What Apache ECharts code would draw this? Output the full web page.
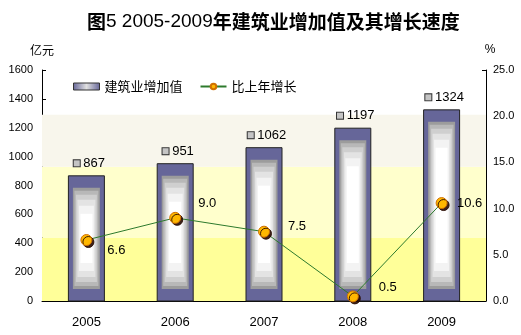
<!DOCTYPE html>
<html>
<head>
<meta charset="utf-8">
<script src="https://cdn.jsdelivr.net/npm/echarts@6/dist/echarts.min.js"></script>
<style>
html,body{margin:0;padding:0;background:#fff;}
#chart{width:521px;height:335px;}
</style>
</head>
<body>
<div id="chart"></div>
<script>
// Categories and values
const years = ['2005', '2006', '2007', '2008', '2009'];
const addedValue = [867, 951, 1062, 1197, 1324];      // 亿元
const growthRate = [6.6, 9.0, 7.5, 0.5, 10.6];        // %
// Shaded background bands (in 亿元 on the left axis)
const bandEdges = [0, 440, 930, 1290];
const bandColors = ['#FFFF99', '#FFFFCC', '#F8F6EC'];

// Label placement for the growth-rate values
const growthLabelOffsets = [[30, 10], [32, -14], [33, -5], [35, -9], [28, 0]];

const chart = echarts.init(document.getElementById('chart'), null, {renderer: 'canvas'});

const FONT = 'Arial, "Liberation Sans", sans-serif';
const CJK = '"Noto Sans CJK SC", sans-serif';

function renderBar(params, api) {
  const v = api.value(1);
  const top = api.coord([api.value(0), v]);
  const base = api.coord([api.value(0), 0]);
  const w = 36;
  const x0 = top[0] - w / 2;
  const y0 = top[1];
  const h = base[1] - top[1];
  const children = [{
    type: 'rect',
    shape: {x: x0, y: y0, width: w, height: h},
    style: {fill: '#666699', stroke: '#222', lineWidth: 1}
  }];
  // nested glow from grey edge to white core
  const layers = [
    [4.5, 12, '#9c9c9c'],
    [6, 15, '#b8b8b8'],
    [7.5, 19, '#cfcfcf'],
    [9, 24, '#e3e3e3'],
    [10.5, 30, '#f3f3f3'],
    [12, 38, '#ffffff']
  ];
  layers.forEach(function (l) {
    const ix = l[0], iy = l[1];
    if (h > 2 * iy + 4) {
      children.push({
        type: 'rect',
        shape: {x: x0 + ix, y: y0 + iy, width: w - 2 * ix, height: h - 2 * iy},
        style: {fill: l[2]}
      });
    }
  });
  children.push({
    type: 'text',
    x: top[0] + 3,
    y: y0 - 6,
    style: {
      text: '{sq|}' + ' ' + v,
      rich: {
        sq: {width: 6, height: 6, backgroundColor: '#c4c4c4', borderColor: '#333', borderWidth: 1}
      },
      font: '13px ' + FONT,
      fill: '#000',
      align: 'center',
      verticalAlign: 'bottom'
    }
  });
  return {type: 'group', children: children};
}

const areas = [];
for (let i = 0; i < bandColors.length; i++) {
  areas.push([
    {yAxis: bandEdges[i], itemStyle: {color: bandColors[i]}},
    {yAxis: bandEdges[i + 1]}
  ]);
}

chart.setOption({
  animation: false,
  backgroundColor: '#fff',
  title: {
    text: '{h|图}{n|5 2005-2009}{h|年建筑业增加值及其增长速度}',
    left: 82,
    top: 7,
    textStyle: {
      rich: {
        h: {fontFamily: CJK, fontSize: 19, fontWeight: 'bold', color: '#000'},
        n: {fontFamily: FONT, fontSize: 19, fontWeight: 'normal', color: '#000'}
      }
    }
  },
  legend: {
    left: 68,
    top: 75,
    itemGap: 17,
    itemWidth: 26,
    itemHeight: 7,
    textStyle: {fontFamily: CJK, fontSize: 13, color: '#000'},
    data: [
      {name: '建筑业增加值', icon: 'rect',
       itemStyle: {color: {type: 'linear', x: 0, y: 0, x2: 1, y2: 0,
         colorStops: [{offset: 0, color: '#666699'}, {offset: 0.5, color: '#e0e0e0'}, {offset: 1, color: '#666699'}]},
         borderColor: '#333', borderWidth: 1}},
      {name: '比上年增长'}
    ]
  },
  grid: {left: 42, right: 35, top: 70, bottom: 34},
  xAxis: {
    type: 'category',
    data: years,
    axisLine: {lineStyle: {color: '#000', width: 1}},
    axisTick: {inside: true, length: 4, lineStyle: {color: '#000'}},
    axisLabel: {fontFamily: FONT, fontSize: 13, color: '#000', margin: 15}
  },
  yAxis: [{
    type: 'value',
    min: 0, max: 1600, interval: 200,
    name: '亿元',
    nameGap: 14,
    nameTextStyle: {fontFamily: CJK, fontSize: 12, color: '#000'},
    splitLine: {show: false},
    axisLine: {show: true, lineStyle: {color: '#000'}},
    axisTick: {show: true, inside: true, length: 4, lineStyle: {color: '#000'}},
    axisLabel: {fontFamily: FONT, fontSize: 11, color: '#000', margin: 9,
      formatter: function (v) { return String(v); }}
  }, {
    type: 'value',
    min: 0, max: 25, interval: 5,
    name: '%',
    nameGap: 14,
    nameTextStyle: {fontFamily: FONT, fontSize: 12, color: '#000', padding: [0, 0, 0, 8]},
    splitLine: {show: false},
    axisLine: {show: true, lineStyle: {color: '#000'}},
    axisTick: {show: true, inside: true, length: 4, lineStyle: {color: '#000'}},
    axisLabel: {fontFamily: FONT, fontSize: 11, color: '#000', margin: 7,
      formatter: function (v) { return v.toFixed(1); }}
  }],
  series: [{
    name: '建筑业增加值',
    type: 'custom',
    yAxisIndex: 0,
    renderItem: renderBar,
    encode: {x: 0, y: 1},
    data: years.map(function (y, i) { return [i, addedValue[i]]; }),
    markArea: {silent: true, data: areas},
    z: 2
  }, {
    name: '比上年增长',
    type: 'line',
    yAxisIndex: 1,
    data: growthRate.map(function (v, i) {
      return {value: v, label: {offset: growthLabelOffsets[i]}};
    }),
    symbol: 'circle',
    symbolSize: 11,
    lineStyle: {color: '#2d7a2d', width: 1},
    itemStyle: {color: '#FFB800', borderColor: '#D07000', borderWidth: 1,
      shadowColor: 'rgba(40,10,0,0.9)', shadowOffsetX: 2, shadowOffsetY: 2, shadowBlur: 0},
    label: {
      show: true,
      position: 'inside',
      fontFamily: FONT, fontSize: 13, color: '#000',
      formatter: function (p) { return p.value.toFixed(1); }
    },
    z: 5
  }]
});
</script>
</body>
</html>
